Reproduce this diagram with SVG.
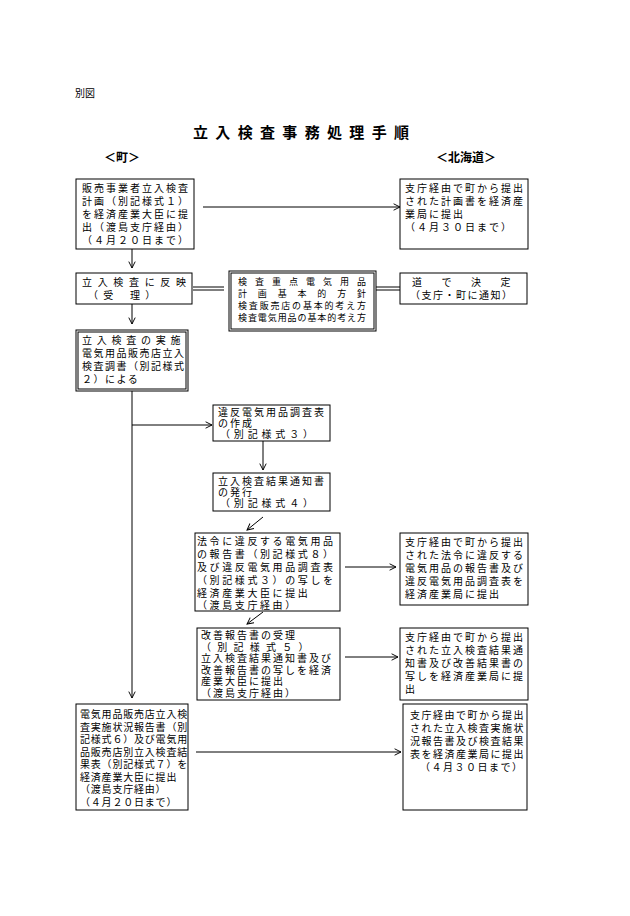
<svg xmlns="http://www.w3.org/2000/svg" width="630" height="916" viewBox="0 0 630 916">
<defs>
<style>
text{font-family:"Noto Sans CJK JP","Noto Sans CJK SC",sans-serif;font-size:10px;fill:#000}
.b{fill:#fff;stroke:#000;stroke-width:1}
.d{fill:none;stroke:#000;stroke-width:1}
.l{stroke:#000;stroke-width:1;fill:none}
.t{font-size:15px;font-weight:bold}
.h{font-size:12px;font-weight:bold}
.s12{letter-spacing:2px}
.s11{letter-spacing:1.5px}
.s10{letter-spacing:0.8px}
.s13{letter-spacing:2.6px}
.sm{font-size:9px}
</style>
<marker id="a" viewBox="0 0 10 10" refX="9" refY="5" markerWidth="8" markerHeight="8" orient="auto" markerUnits="userSpaceOnUse"><path d="M1,1 L9,5 L1,9" fill="none" stroke="#000" stroke-width="1.2"/></marker>
</defs>
<rect width="630" height="916" fill="#fff"/>
<text x="75" y="97">別図</text>
<text class="t" x="193" y="138" textLength="216" lengthAdjust="spacing">立入検査事務処理手順</text>
<text class="h" x="104" y="162">＜町＞</text>
<text class="h" x="436" y="162">＜北海道＞</text>

<g id="connectors">
<line class="l" x1="203" y1="207" x2="400" y2="207" marker-end="url(#a)"/>
<line class="l" x1="132" y1="248" x2="132" y2="268" marker-end="url(#a)"/>
<line class="l" x1="193" y1="287" x2="224" y2="287"/><line class="l" x1="193" y1="290" x2="224" y2="290"/>
<line class="l" x1="376" y1="287" x2="405" y2="287"/><line class="l" x1="376" y1="290" x2="405" y2="290"/>
<line class="l" x1="132" y1="304" x2="132" y2="324" marker-end="url(#a)"/>
<line class="l" x1="132" y1="391" x2="132" y2="698" marker-end="url(#a)"/>
<line class="l" x1="132" y1="425" x2="212" y2="425" marker-end="url(#a)"/>
<line class="l" x1="263" y1="441" x2="263" y2="470" marker-end="url(#a)"/>
<line class="l" x1="263" y1="517" x2="247" y2="530" marker-end="url(#a)"/>
<line class="l" x1="345" y1="567" x2="396" y2="567" marker-end="url(#a)"/>
<line class="l" x1="263" y1="612" x2="247" y2="624" marker-end="url(#a)"/>
<line class="l" x1="345" y1="657" x2="398" y2="657" marker-end="url(#a)"/>
<line class="l" x1="196" y1="752" x2="401" y2="752" marker-end="url(#a)"/>
</g>

<g id="n1" class="s12"><rect class="b" x="76" y="179" width="118" height="70"/>
<text x="82" y="192">販売事業者立入検査</text><text x="82" y="205">計画（別記様式１）</text><text x="82" y="218">を経済産業大臣に提</text><text x="82" y="231">出（渡島支庁経由）</text><text x="82" y="244">（４月２０日まで）</text></g>
<g id="n2" class="s12"><rect class="b" x="400" y="179" width="128" height="70"/>
<text x="405" y="192">支庁経由で町から提出</text><text x="405" y="205">された計画書を経済産</text><text x="405" y="218">業局に提出</text><text x="405" y="231">（４月３０日まで）</text></g>
<g id="n3"><rect class="b" x="76" y="273" width="116" height="31"/>
<text x="82" y="286" textLength="104" lengthAdjust="spacing">立入検査に反映</text><text x="88" y="299" class="s11">（ 受　 理 ）</text></g>
<g id="n4"><rect class="d" x="229" y="271" width="147" height="60"/><rect class="d" x="231" y="273" width="143" height="56"/>
<text x="238" y="285" class="sm" textLength="128" lengthAdjust="spacing">検査重点電気用品</text>
<text x="238" y="297" class="sm" textLength="128" lengthAdjust="spacing">計画基本的方針</text>
<text x="238" y="309" class="sm" textLength="128" lengthAdjust="spacing">検査販売店の基本的考え方</text>
<text x="238" y="321" class="sm" textLength="128" lengthAdjust="spacing">検査電気用品の基本的考え方</text></g>
<g id="n5" class="s11"><rect class="b" x="400" y="273" width="127" height="31"/>
<text x="412" y="286" textLength="100" lengthAdjust="spacing">道で決定</text><text x="410" y="299">（支庁・町に通知）</text></g>
<g id="n6" class="s11"><rect class="d" x="76" y="330" width="112" height="61"/><rect class="d" x="78" y="332" width="108" height="57"/>
<text x="82" y="344" textLength="100" lengthAdjust="spacing">立入検査の実施</text><text x="82" y="357">電気用品販売店立入</text><text x="82" y="370">検査調書（別記様式</text><text x="82" y="383">２）による</text></g>
<g id="n7" class="s12"><rect class="b" x="213" y="405" width="117" height="36"/>
<text x="218" y="416">違反電気用品調査表</text><text x="218" y="427">の作成</text><text x="220" y="438" class="s10">（ 別 記 様 式 ３ ）</text></g>
<g id="n8" class="s12"><rect class="b" x="213" y="473" width="117" height="38"/>
<text x="218" y="485">立入検査結果通知書</text><text x="218" y="496">の発行</text><text x="220" y="507" class="s10">（ 別 記 様 式 ４ ）</text></g>
<g id="n9" class="s13"><rect class="b" x="195" y="533" width="145" height="78"/>
<text x="197" y="545">法令に違反する電気用品</text><text x="197" y="558">の報告書（別記様式８）</text><text x="197" y="571">及び違反電気用品調査表</text><text x="197" y="584">（別記様式３）の写しを</text><text x="197" y="597">経済産業大臣に提出</text><text x="197" y="609">（渡島支庁経由）</text></g>
<g id="n10" class="s12"><rect class="b" x="400" y="533" width="128" height="72"/>
<text x="405" y="546">支庁経由で町から提出</text><text x="405" y="559">された法令に違反する</text><text x="405" y="572">電気用品の報告書及び</text><text x="405" y="585">違反電気用品調査表を</text><text x="405" y="598">経済産業局に提出</text></g>
<g id="n11" class="s12"><rect class="b" x="197" y="628" width="143" height="72"/>
<text x="201" y="639">改善報告書の受理</text><text x="201" y="650.5">（ 別 記 様 式 ５ ）</text><text x="201" y="662">立入検査結果通知書及び</text><text x="201" y="673.5">改善報告書の写しを経済</text><text x="201" y="685">産業大臣に提出</text><text x="201" y="696.5">（渡島支庁経由）</text></g>
<g id="n12" class="s12"><rect class="b" x="400" y="628" width="128" height="72"/>
<text x="405" y="641">支庁経由で町から提出</text><text x="405" y="654">された立入検査結果通</text><text x="405" y="667">知書及び改善結果書の</text><text x="405" y="680">写しを経済産業局に提</text><text x="405" y="693">出</text></g>
<g id="n13" class="s10"><rect class="b" x="76" y="704" width="112" height="106"/>
<text x="80" y="718">電気用品販売店立入検</text><text x="80" y="730.5">査実施状況報告書（別</text><text x="80" y="743">記様式６）及び電気用</text><text x="80" y="755.5">品販売店別立入検査結</text><text x="80" y="768">果表（別記様式７）を</text><text x="80" y="780.5">経済産業大臣に提出</text><text x="80" y="793">（渡島支庁経由）</text><text x="80" y="805.5">（４月２０日まで）</text></g>
<g id="n14" class="s11"><rect class="b" x="403" y="704" width="124" height="106"/>
<text x="410" y="719">支庁経由で町から提出</text><text x="410" y="732">された立入検査実施状</text><text x="410" y="745">況報告書及び検査結果</text><text x="410" y="758">表を経済産業局に提出</text><text x="420" y="771">（４月３０日まで）</text></g>
</svg>
